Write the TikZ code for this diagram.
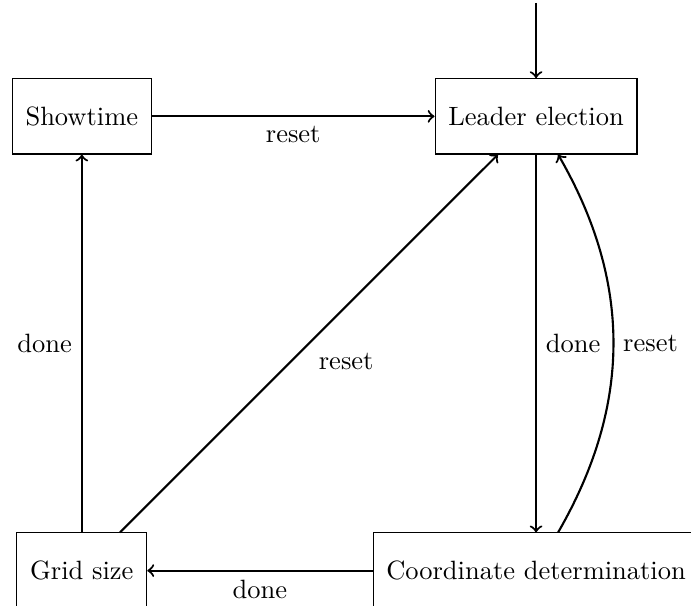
\documentclass[tikz,border=0pt]{standalone}
\usetikzlibrary{positioning}
\tikzset{phase/.style={draw, minimum height=1cm, inner sep=5pt}}
\begin{document}
\begin{tikzpicture}
            \useasboundingbox (-30.9pt, -184.6pt) rectangle (230.1pt, 43.94pt);
            \clip (-30.9pt, -184.6pt) rectangle (230.1pt, 43.94pt);
            \node[phase] (show) at (0, 0) {Showtime};
            \node[phase] (elect) at (6.03, 0) {Leader election};
            \node[phase] (grid) at (0, -6.03) {Grid size};
            \node[phase] (coord) at (6.03, -6.03) {Coordinate determination};
            \coordinate (start) at ([yshift=1cm]elect.north);
            \draw[->, thick] (start) -- (elect);
            \draw[->, thick] (show) -- node[below] {reset} (elect);
            \draw[->, thick] (elect) -- node[right] {done} (coord);
            \draw[->, thick] (coord) to[bend right] node[right] {reset} (elect);
            \draw[->, thick] (coord) -- node[below] {done} (grid);
            \draw[->, thick] (grid) -- node[left] {done} (show);
            \draw[->, thick] (grid) -- node[below right] {reset} (elect);
        \end{tikzpicture}
\end{document}
